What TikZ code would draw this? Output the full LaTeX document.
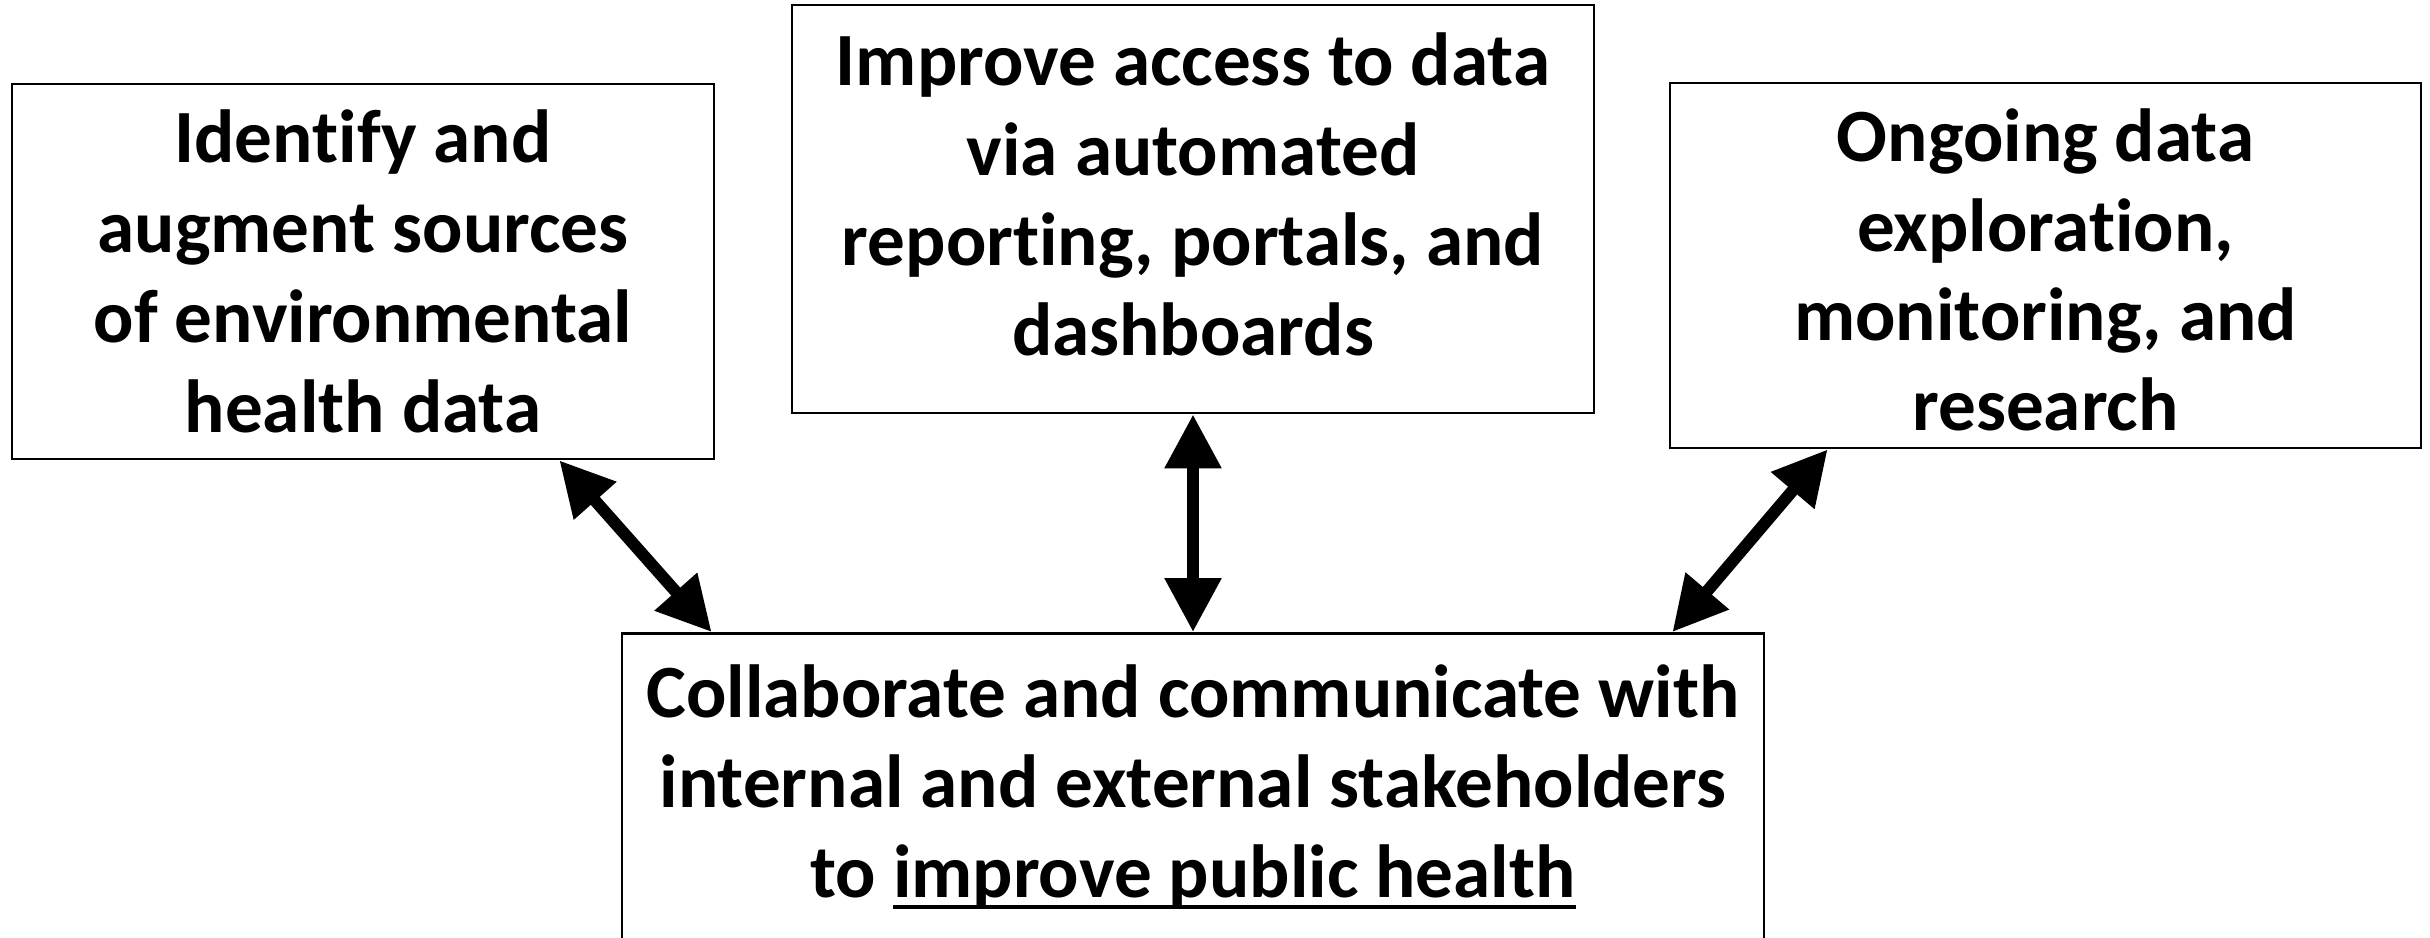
\documentclass[tikz,border=0pt]{standalone}
\usepackage{fontspec}
\setmainfont{Carlito}[Ligatures=NoCommon]
\usetikzlibrary{arrows.meta}
\newcommand\goalline[1]{\setbox0\hbox{#1}\rlap{\rule[-3.4pt]{\wd0}{1.1pt}}\box0}
\begin{document}
\begin{tikzpicture}[>={Triangle[length=.54cm,width=.54cm]},
    goal/.style={draw, line width=.8pt, inner sep=0pt, align=center,
        font=\fontsize{21.4}{25.6}\selectfont\bfseries},
    link/.style={<->, line width=.12cm}]
\useasboundingbox (0,0) rectangle (24.3,-9.37);
\node[goal, minimum width=7.02cm, minimum height=3.75cm] (sources) at (3.63,-2.715)
    {Identify and\\augment sources\\of environmental\\health data};
\node[goal, minimum width=8.02cm, minimum height=4.08cm, text depth=.3cm] (access) at (11.93,-2.09)
    {Improve access to data\\via automated\\reporting, portals, and\\dashboards};
\node[goal, minimum width=7.51cm, minimum height=3.65cm] (research) at (20.455,-2.655)
    {\rule{0pt}{17.5pt}Ongoing data\\exploration,\\monitoring, and\\research};
\node[goal, anchor=north, minimum width=11.42cm, inner ysep=.31cm, text depth=1.5cm] (collab) at (11.93,-6.32)
    {Collaborate and communicate with\\internal and external stakeholders\\to \goalline{improve public health}};
\draw[link] ([xshift=-1.56cm]sources.south east) -- ([xshift=.91cm]collab.north west);
\draw[link] (access.south) -- (collab.north);
\draw[link] ([xshift=1.59cm]research.south west) -- ([xshift=-.93cm]collab.north east);
\end{tikzpicture}
\end{document}
